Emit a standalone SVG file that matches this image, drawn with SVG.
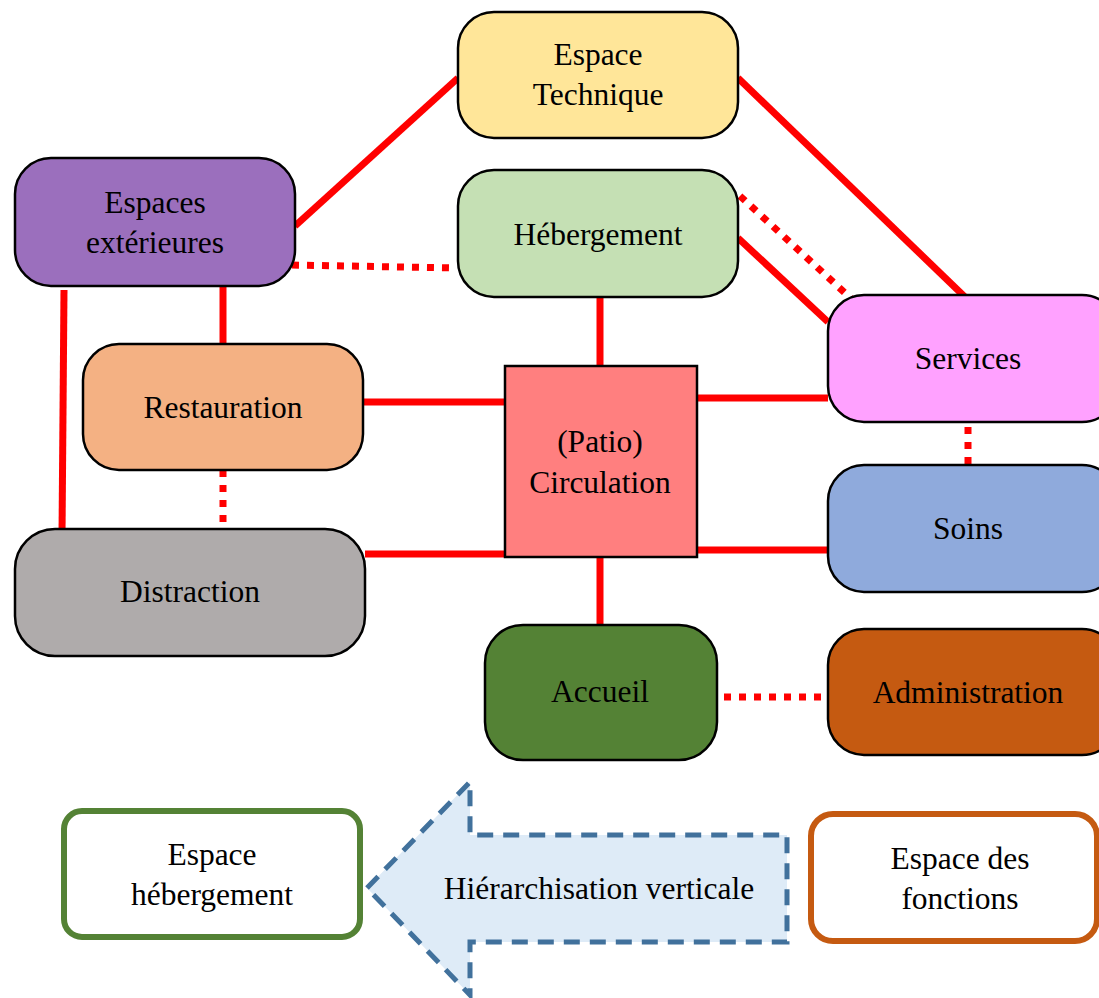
<svg xmlns="http://www.w3.org/2000/svg" width="1099" height="998" viewBox="0 0 1099 998">
<style>
.n{stroke:#000;stroke-width:2.5}
.t{font-family:"Liberation Serif","Times New Roman",serif;font-size:31.5px;fill:#000;text-anchor:middle}
.c{stroke:#FF0000;stroke-width:7;fill:none}
.d{stroke:#FF0000;stroke-width:7;fill:none;stroke-dasharray:7 8}
</style>
<rect width="1099" height="998" fill="#fff"/>
<g id="connectors">
<line class="c" x1="295" y1="226" x2="458" y2="78"/>
<line class="c" x1="738" y1="78" x2="966" y2="298"/>
<line class="d" x1="292" y1="265" x2="456" y2="268"/>
<line class="c" x1="738" y1="238" x2="828" y2="322"/>
<line class="d" x1="740" y1="196" x2="858" y2="305"/>
<line class="c" x1="64" y1="290" x2="62" y2="536"/>
<line class="c" x1="223" y1="286" x2="223" y2="347"/>
<line class="c" x1="600" y1="297" x2="600" y2="366"/>
<line class="c" x1="363" y1="402" x2="505" y2="402"/>
<line class="c" x1="697" y1="398" x2="828" y2="398"/>
<line class="d" x1="968" y1="412" x2="968" y2="466"/>
<line class="d" x1="223" y1="470" x2="223" y2="529"/>
<line class="c" x1="365" y1="554" x2="508" y2="554"/>
<line class="c" x1="697" y1="550" x2="828" y2="550"/>
<line class="c" x1="600" y1="557" x2="600" y2="625"/>
<line class="d" x1="724" y1="697" x2="828" y2="697"/>
</g>
<g id="technique"><rect class="n" x="458" y="12" width="280" height="126" rx="36" fill="#FFE699"/><text class="t" x="598" y="65">Espace</text><text class="t" x="598" y="105">Technique</text></g>
<g id="exterieures"><rect class="n" x="15" y="158" width="280" height="128" rx="36" fill="#9B6FBD"/><text class="t" x="155" y="213">Espaces</text><text class="t" x="155" y="253">extérieures</text></g>
<g id="hebergement"><rect class="n" x="458" y="170" width="280" height="127" rx="36" fill="#C5E0B4"/><text class="t" x="598" y="245">Hébergement</text></g>
<g id="services"><rect class="n" x="828" y="295" width="290" height="127" rx="36" fill="#FFA1FF"/><text class="t" x="968" y="369">Services</text></g>
<g id="restauration"><rect class="n" x="83" y="344" width="280" height="126" rx="36" fill="#F4B183"/><text class="t" x="223" y="418">Restauration</text></g>
<g id="patio"><rect class="n" x="505" y="366" width="192" height="191" fill="#FF7F7F"/><text class="t" x="600" y="452">(Patio)</text><text class="t" x="600" y="493">Circulation</text></g>
<g id="soins"><rect class="n" x="828" y="465" width="290" height="127" rx="36" fill="#8FAADC"/><text class="t" x="968" y="539">Soins</text></g>
<g id="distraction"><rect class="n" x="15" y="529" width="350" height="127" rx="40" fill="#AFABAB"/><text class="t" x="190" y="602">Distraction</text></g>
<g id="accueil"><rect class="n" x="485" y="625" width="232" height="135" rx="38" fill="#548235"/><text class="t" x="600" y="702">Accueil</text></g>
<g id="administration"><rect class="n" x="828" y="629" width="290" height="126" rx="36" fill="#C55A11"/><text class="t" x="968" y="703">Administration</text></g>
<g id="espace-hebergement"><rect x="64" y="811" width="296" height="126" rx="18" fill="#fff" stroke="#548235" stroke-width="6"/><text class="t" x="212" y="865">Espace</text><text class="t" x="212" y="905">hébergement</text></g>
<g id="espace-fonctions"><rect x="811" y="814" width="286" height="127" rx="22" fill="#fff" stroke="#C55A11" stroke-width="6"/><text class="t" x="960" y="869">Espace des</text><text class="t" x="960" y="909">fonctions</text></g>
<g id="arrow"><polygon points="367,888 470,782 470,835 787,835 787,942 470,942 470,995" fill="#DEEBF7" stroke="#41719C" stroke-width="5" stroke-dasharray="16 10"/><text class="t" x="599" y="899">Hiérarchisation verticale</text></g>
</svg>
